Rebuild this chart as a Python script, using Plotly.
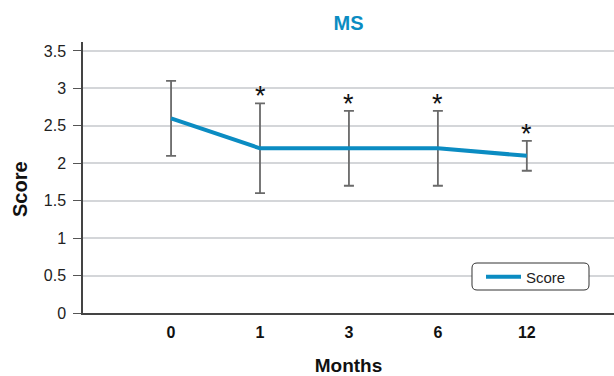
import plotly.graph_objects as go

# Score over follow-up (mean with SD error bars)
months = ["0", "1", "3", "6", "12"]
score = [2.6, 2.2, 2.2, 2.2, 2.1]
err_plus = [0.5, 0.6, 0.5, 0.5, 0.2]
err_minus = [0.5, 0.6, 0.5, 0.5, 0.2]
significant = [False, True, True, True, True]

BLUE = "#0b8cc2"
AXIS = "#555555"
FONT = "Liberation Sans, Arial, Helvetica, sans-serif"
W, H = 614, 376
ML, MR, MT, MB = 83, 0, 42, 63

fig = go.Figure()
fig.add_trace(go.Scatter(
    x=months, y=score, mode="lines", name="Score",
    line=dict(color=BLUE, width=4),
    error_y=dict(type="data", symmetric=False, array=err_plus, arrayminus=err_minus,
                 color="#6a6a6a", thickness=1.8, width=5),
))

# significance markers above the upper whisker (category index positions)
for i, (s, e, sig) in enumerate(zip(score, err_plus, significant)):
    if sig:
        fig.add_annotation(x=i, y=s + e, text="*", showarrow=False,
                           yanchor="bottom", yshift=-10,
                           font=dict(size=27, color="#111111", family=FONT))

# pixel -> paper coordinate helpers
pw, ph = W - ML - MR, H - MT - MB
def to_paper_x(v):
    return (v - ML) / pw
def to_paper_y(v):
    return (H - MB - v) / ph

# y-axis title placed as a rotated annotation
fig.add_annotation(x=to_paper_x(20), y=to_paper_y(189), xref="paper", yref="paper",
                   text="<b>Score</b>", textangle=-90, showarrow=False,
                   xanchor="center", yanchor="middle",
                   font=dict(size=20, family=FONT, color="#111111"))

# rounded legend frame
x0, x1, y0, y1, r = 472, 589, 263, 290, 5
pts = [("M", x0 + r, y0), ("L", x1 - r, y0), ("Q", x1, y0, x1, y0 + r),
       ("L", x1, y1 - r), ("Q", x1, y1, x1 - r, y1), ("L", x0 + r, y1),
       ("Q", x0, y1, x0, y1 - r), ("L", x0, y0 + r), ("Q", x0, y0, x0 + r, y0)]
segs = []
for p in pts:
    cmd, coords = p[0], p[1:]
    xy = []
    for k in range(0, len(coords), 2):
        xy.append(f"{to_paper_x(coords[k]):.5f},{to_paper_y(coords[k+1]):.5f}")
    segs.append(cmd + " " + " ".join(xy))
path = " ".join(segs) + " Z"

fig.update_layout(
    width=W, height=H,
    margin=dict(l=ML, r=MR, t=MT, b=MB),
    paper_bgcolor="white", plot_bgcolor="white",
    font=dict(family=FONT, size=16, color="#222222"),
    title=dict(text="<b>MS</b>", x=0.5, xref="paper", y=0.94, yanchor="middle",
               font=dict(size=20, color=BLUE, family=FONT)),
    showlegend=True,
    legend=dict(x=to_paper_x(481), y=to_paper_y(277), xanchor="left", yanchor="middle",
                bgcolor="rgba(0,0,0,0)", borderwidth=0, itemwidth=35,
                font=dict(size=15, color="#222222", family=FONT)),
    xaxis=dict(
        type="category", range=[-0.99, 4.98],
        showgrid=False, zeroline=False,
        showline=True, linecolor="#444444", linewidth=1.5,
        ticks="outside", ticklen=4, tickcolor="rgba(0,0,0,0)",
        tickfont=dict(size=16, family=FONT, color="#111111", weight="bold"),
        title=dict(text="<b>Months</b>", standoff=20,
                   font=dict(size=19, family=FONT, color="#111111")),
    ),
    yaxis=dict(
        range=[0, 3.62], tickvals=[0, 0.5, 1, 1.5, 2, 2.5, 3, 3.5],
        ticktext=["0", "0.5", "1", "1.5", "2", "2.5", "3", "3.5"],
        showgrid=True, gridcolor="#d4d6d9", gridwidth=1.5, zeroline=False,
        showline=True, linecolor="#444444", linewidth=1.5,
        ticks="outside", ticklen=8, tickcolor=AXIS, tickwidth=1,
        ticklabelstandoff=4,
        tickfont=dict(size=16, family=FONT, color="#222222"),
    ),
    shapes=[dict(type="path", path=path, xref="paper", yref="paper",
                 line=dict(color="#333333", width=1), fillcolor="white", layer="above")],
)

fig.write_html("out.html")
